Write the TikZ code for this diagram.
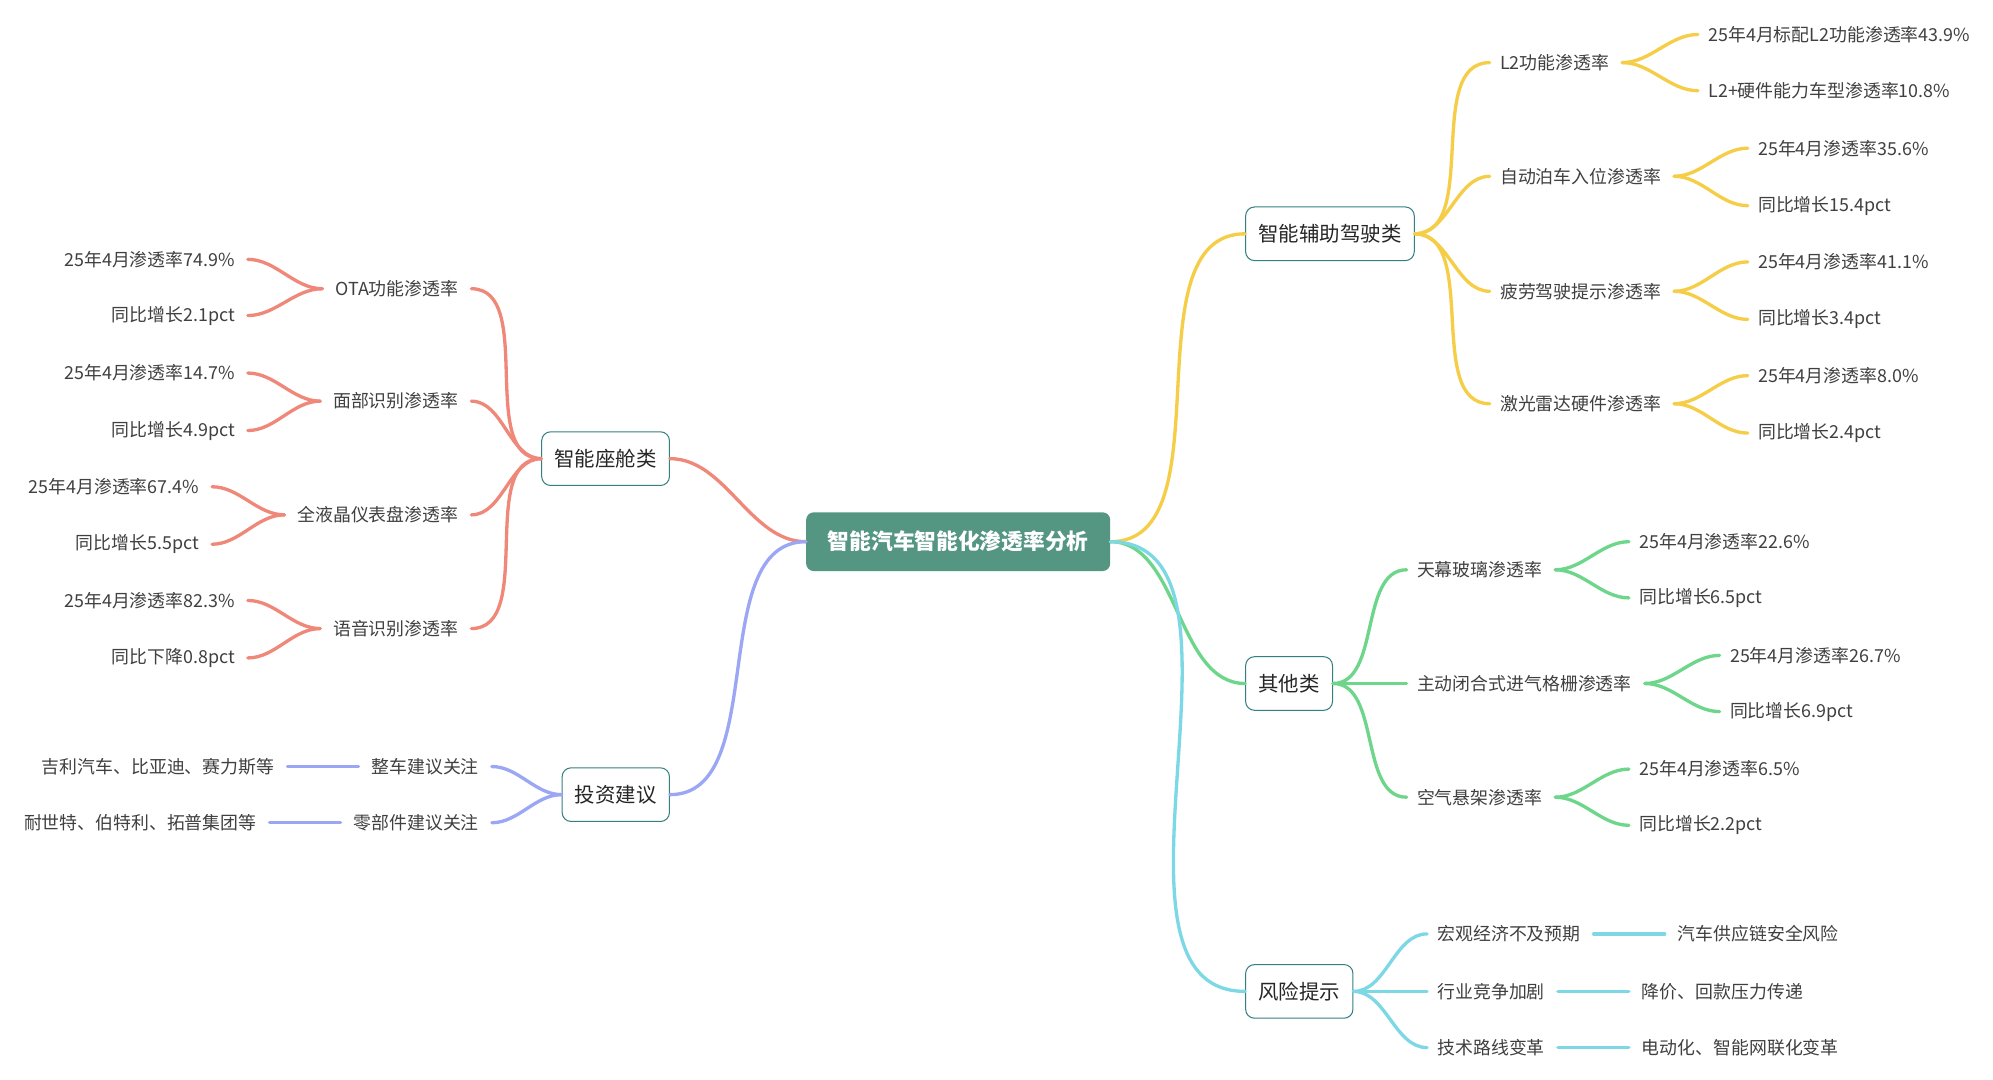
\documentclass[tikz,border=0pt]{standalone}
\usepackage{fontspec}
\setmainfont{Noto Sans CJK SC}
\begin{document}
\begin{tikzpicture}[x=1pt,y=-1pt,
  t/.style={inner sep=0pt,text=black!75,font=\fontsize{14}{16}\selectfont},
  box/.style={draw=teal!60!gray,rounded corners=7pt,fill=white,line width=0.8pt,minimum height=42pt,inner xsep=10pt,text=black!85,font=\fontsize{16}{18}\selectfont},
  br/.style={line width=2.6pt,line cap=round},
  yl/.style={br,draw={rgb,255:red,245;green,205;blue,70}},
  gr/.style={br,draw={rgb,255:red,110;green,214;blue,138}},
  cy/.style={br,draw={rgb,255:red,125;green,216;blue,230}},
  rd/.style={br,draw={rgb,255:red,240;green,136;blue,122}},
  bl/.style={br,draw={rgb,255:red,155;green,166;blue,245}},
  cv/.style={out=0,in=180,looseness=0.9},
  cvl/.style={out=180,in=0,looseness=0.9}]
\useasboundingbox[fill=white] (0,0) rectangle (1560,845);
\node[fill={rgb,255:red,84;green,150;blue,130},rounded corners=6pt,minimum width=238pt,minimum height=46pt,text=white,font=\fontsize{17}{19}\selectfont\bfseries] (c) at (750,424) {智能汽车智能化渗透率分析};
% level 1
\node[box] (a) at (1041,183) {智能辅助驾驶类};
\node[box] (o) at (1009,535) {其他类};
\node[box] (r) at (1017,776) {风险提示};
\node[box] (s) at (474,359) {智能座舱类};
\node[box] (v) at (482,622) {投资建议};
\draw[yl] (c.east) to[cv] (a.west);
\draw[gr] (c.east) to[cv] (o.west);
\draw[cy] (c.east) to[cv] (r.west);
\draw[rd] (c.west) to[cvl] (s.east);
\draw[bl] (c.west) to[cvl] (v.west-|v.east);
% ADAS
\node[t,anchor=west] (a1) at (1174,49) {L2功能渗透率};
\node[t,anchor=west] (a2) at (1174,138) {自动泊车入位渗透率};
\node[t,anchor=west] (a3) at (1174,228) {疲劳驾驶提示渗透率};
\node[t,anchor=west] (a4) at (1174,316) {激光雷达硬件渗透率};
\node[t,anchor=west] (a11) at (1337,27) {25年4月标配L2功能渗透率43.9\%};
\node[t,anchor=west] (a12) at (1337,71) {L2+硬件能力车型渗透率10.8\%};
\node[t,anchor=west] (a21) at (1376,116) {25年4月渗透率35.6\%};
\node[t,anchor=west] (a22) at (1376,161) {同比增长15.4pct};
\node[t,anchor=west] (a31) at (1376,205) {25年4月渗透率41.1\%};
\node[t,anchor=west] (a32) at (1376,250) {同比增长3.4pct};
\node[t,anchor=west] (a41) at (1376,294) {25年4月渗透率8.0\%};
\node[t,anchor=west] (a42) at (1376,339) {同比增长2.4pct};
\foreach \i in {1,2,3,4}{\draw[yl] (a.east) to[cv] ([xshift=-8pt]a\i.west);
  \foreach \j in {1,2}{\draw[yl] ([xshift=10pt]a\i.east) to[cv] ([xshift=-8pt]a\i\j.west);}}
% other
\node[t,anchor=west] (o1) at (1109,446) {天幕玻璃渗透率};
\node[t,anchor=west] (o2) at (1109,535) {主动闭合式进气格栅渗透率};
\node[t,anchor=west] (o3) at (1109,624) {空气悬架渗透率};
\node[t,anchor=west] (o11) at (1283,424) {25年4月渗透率22.6\%};
\node[t,anchor=west] (o12) at (1283,468) {同比增长6.5pct};
\node[t,anchor=west] (o21) at (1354,513) {25年4月渗透率26.7\%};
\node[t,anchor=west] (o22) at (1354,557) {同比增长6.9pct};
\node[t,anchor=west] (o31) at (1283,602) {25年4月渗透率6.5\%};
\node[t,anchor=west] (o32) at (1283,646) {同比增长2.2pct};
\foreach \i in {1,2,3}{\draw[gr] (o.east) to[cv] ([xshift=-8pt]o\i.west);
  \foreach \j in {1,2}{\draw[gr] ([xshift=10pt]o\i.east) to[cv] ([xshift=-8pt]o\i\j.west);}}
% risk
\node[t,anchor=west] (r1) at (1125,731) {宏观经济不及预期};
\node[t,anchor=west] (r2) at (1125,776) {行业竞争加剧};
\node[t,anchor=west] (r3) at (1125,820) {技术路线变革};
\node[t,anchor=west] (r11) at (1313,731) {汽车供应链安全风险};
\node[t,anchor=west] (r21) at (1285,776) {降价、回款压力传递};
\node[t,anchor=west] (r31) at (1285,820) {电动化、智能网联化变革};
\foreach \i in {1,2,3}{\draw[cy] (r.east) to[cv] ([xshift=-8pt]r\i.west);
  \draw[cy] ([xshift=10pt]r\i.east) -- ([xshift=-10pt]r\i1.west);}
% cockpit
\node[t,anchor=east] (s1) at (359,226) {OTA功能渗透率};
\node[t,anchor=east] (s2) at (359,314) {面部识别渗透率};
\node[t,anchor=east] (s3) at (359,403) {全液晶仪表盘渗透率};
\node[t,anchor=east] (s4) at (359,492) {语音识别渗透率};
\node[t,anchor=east] (s11) at (184,203) {25年4月渗透率74.9\%};
\node[t,anchor=east] (s12) at (184,247) {同比增长2.1pct};
\node[t,anchor=east] (s21) at (184,292) {25年4月渗透率14.7\%};
\node[t,anchor=east] (s22) at (184,337) {同比增长4.9pct};
\node[t,anchor=east] (s31) at (156,381) {25年4月渗透率67.4\%};
\node[t,anchor=east] (s32) at (156,426) {同比增长5.5pct};
\node[t,anchor=east] (s41) at (184,470) {25年4月渗透率82.3\%};
\node[t,anchor=east] (s42) at (184,515) {同比下降0.8pct};
\foreach \i in {1,2,3,4}{\draw[rd] (s.west) to[cvl] ([xshift=10pt]s\i.east);
  \foreach \j in {1,2}{\draw[rd] ([xshift=-10pt]s\i.west) to[cvl] ([xshift=10pt]s\i\j.east);}}
% invest
\node[t,anchor=east] (v1) at (375,600) {整车建议关注};
\node[t,anchor=east] (v2) at (375,644) {零部件建议关注};
\node[t,anchor=east] (v11) at (215,600) {吉利汽车、比亚迪、赛力斯等};
\node[t,anchor=east] (v21) at (201,644) {耐世特、伯特利、拓普集团等};
\foreach \i in {1,2}{\draw[bl] (v.west) to[cvl] ([xshift=10pt]v\i.east);
  \draw[bl] ([xshift=-10pt]v\i.west) -- ([xshift=10pt]v\i1.east);}
\end{tikzpicture}
\end{document}
